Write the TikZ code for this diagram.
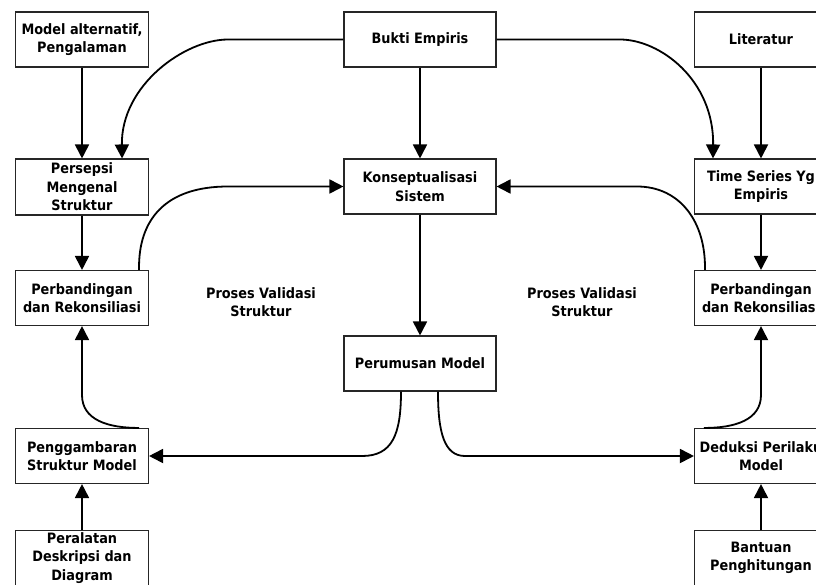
\documentclass[tikz,border=0pt]{standalone}
\usepackage{fontspec}
\usetikzlibrary{arrows.meta}
\newfontfamily\diagfont{DejaVu Sans Condensed}
\newcommand\labelfont{\diagfont\bfseries\fontsize{14.3}{18.5}\selectfont}

\tikzset{
  box/.style={draw=black!85, line width=1.1pt, minimum width=133pt,
    minimum height=55pt, inner sep=0pt, align=center, font=\labelfont},
  cbox/.style={box, minimum width=152pt},
  lbl/.style={align=center, inner sep=0pt, font=\labelfont},
  arr/.style={line width=1.8pt, -{Triangle[length=14pt,width=14pt]}},
}

\begin{document}
\begin{tikzpicture}[x=1pt, y=-1pt]
  \useasboundingbox (0,0) rectangle (816,584);
  \fill[white] (0,0) rectangle (816,584);
  \clip (0,0) rectangle (816,584);

  % left column
  \node[box] (malt)  at (82,39.5) {Model alternatif,\\Pengalaman};
  \node[box, minimum height=56pt] (pers) at (82,187) {Persepsi\\Mengenal\\Struktur};
  \node[box] (perbL) at (82,298)  {Perbandingan\\dan Rekonsiliasi};
  \node[box] (gamb)  at (82,456)  {Penggambaran\\Struktur Model};
  \node[box] (alat)  at (82,558)  {Peralatan\\Deskripsi dan\\Diagram};

  % centre column
  \node[cbox] (bukti)  at (420,39.5)  {Bukti Empiris};
  \node[cbox] (konsep) at (420,186.5) {Konseptualisasi\\Sistem};
  \node[cbox] (rumus)  at (420,363.5) {Perumusan Model};

  % right column
  \node[box] (lit)   at (761,39.5)  {Literatur};
  \node[box] (ts)    at (761,186.5) {Time Series Yg\\Empiris};
  \node[box] (perbR) at (761,298)   {Perbandingan\\dan Rekonsiliasi};
  \node[box] (ded)   at (761,456)   {Deduksi Perilaku\\Model};
  \node[box] (bantu) at (761,558)   {Bantuan\\Penghitungan};

  % loop labels
  \node[lbl] (valL) at (261,302) {Proses Validasi\\Struktur};
  \node[lbl] (valR) at (582,302) {Proses Validasi\\Struktur};

  % straight connectors
  \draw[arr] (malt.south) -- (pers.north);
  \draw[arr] (pers.south) -- (perbL.north);
  \draw[arr] (alat.north) -- (gamb.south);
  \draw[arr] (bukti.south) -- (konsep.north);
  \draw[arr] (konsep.south) -- (rumus.north);
  \draw[arr] (lit.south) -- (ts.north);
  \draw[arr] (ts.south) -- (perbR.north);
  \draw[arr] (bantu.north) -- (ded.south);

  % evidence feeding both sides
  \draw[arr] (bukti.west) -- (228,39.5)
    .. controls (185,39.5) and (121,85) .. ([xshift=-27pt]pers.north east);
  \draw[arr] (bukti.east) -- (620,39.5)
    .. controls (660,39.5) and (714,80) .. ([xshift=19pt]ts.north west);

  % comparisons back to the conceptualisation
  \draw[arr] ([xshift=-10pt]perbL.north east)
    .. controls (138,220) and (165,186.5) .. (228,186.5) -- (konsep.west);
  \draw[arr] ([xshift=11pt]perbR.north west)
    .. controls (706,222) and (680,186.5) .. (637,186.5) -- (konsep.east);

  % model formulation split
  \draw[arr] ([xshift=-19pt]rumus.south)
    .. controls (401,435) and (392,456) .. (362,456) -- (gamb.east);
  \draw[arr] ([xshift=18pt]rumus.south)
    .. controls (438,432) and (444,456) .. (465,456) -- (ded.west);

  % lower rows up to the comparisons
  \draw[arr] ([xshift=-10pt]gamb.north east)
    .. controls (108,428) and (82,420) .. (82,395) -- (perbL.south);
  \draw[arr] ([xshift=10pt]ded.north west)
    .. controls (735,428) and (761,420) .. (761,395) -- (perbR.south);
\end{tikzpicture}
\end{document}
